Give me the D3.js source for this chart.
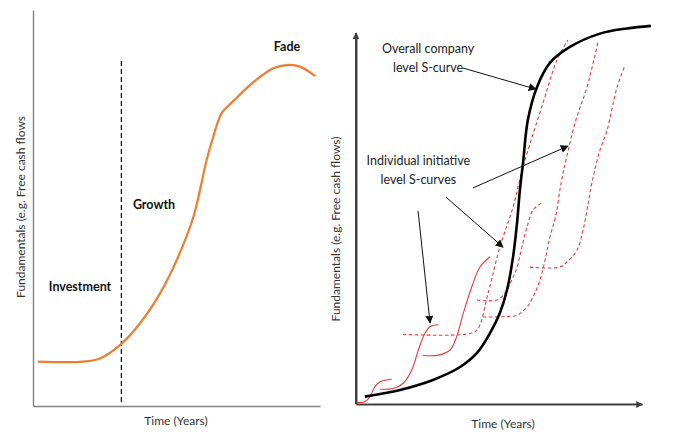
<!DOCTYPE html>
<html>
<head>
<meta charset="utf-8">
<script src="https://cdn.jsdelivr.net/npm/d3@7"></script>
<style>
  body { margin: 0; background: #fff; }
  svg text { font-family: Lato, "Open Sans", sans-serif; }
</style>
</head>
<body>
<div class="container"></div>
<script>
// left panel: single lifecycle curve (x = time, y = fundamentals, 0..100)
const lifeX = [1.7, 17.5, 23.3, 30.8, 37.3, 44.3, 50.1, 55.9, 60.5, 62.8, 65.7, 69.8, 76.8, 83.7, 88.4, 93.0, 98.3]
const lifeY = [11.2, 11.2, 12.0, 15.7, 20.9, 28.5, 36.9, 47.8, 62.1, 68.0, 73.9, 77.0, 81.8, 85.3, 86.1, 85.7, 83.3]
const phaseLabels = ['Investment', 'Growth', 'Fade']
const phaseX = [5.5, 34.8, 88.5]
const phaseY = [29.0, 49.7, 89.6]
const phaseAnchor = ['start', 'start', 'middle']
const dividerX = 30.8

// right panel: company curve and initiative curves
const companyX = [3.1, 15.4, 26.9, 36.4, 42.3, 46.9, 50.3, 52.8, 54.9, 56.3, 57.3, 58.4, 60.1, 63.3, 67.8, 74.8, 85.3, 94.8, 103.1]
const companyY = [2.0, 3.8, 6.5, 10.0, 13.8, 19.2, 24.6, 30.8, 39.7, 48.9, 57.8, 65.1, 76.8, 85.7, 92.2, 96.5, 100.1, 101.5, 102.2]

const s1X = [0.2, 3.1, 4.9, 6.6, 8.4, 10.7, 12.5]
const s1Y = [0.4, 0.6, 2.0, 4.7, 6.0, 6.5, 6.7]
const s2X = [8.4, 13.0, 16.5, 19.5, 21.8, 24.1, 25.9, 28.8]
const s2Y = [4.0, 4.2, 5.6, 9.2, 14.6, 19.1, 20.9, 21.4]
const s3X = [23.5, 28.8, 32.9, 35.2, 37.5, 40.5, 43.4, 46.9]
const s3Y = [13.1, 13.2, 14.6, 18.2, 24.5, 31.7, 37.1, 39.8]

const d1X = [16.4, 38.8, 42.3, 46.2, 50.3, 54.9, 58.4, 65.4, 70.3, 74.1]
const d1Y = [18.8, 18.9, 20.0, 30.0, 42.4, 53.2, 64.1, 81.4, 93.0, 98.4]
const d2X = [42.3, 49.3, 52.1, 54.5, 56.3, 58.0, 59.8, 61.9, 65.4]
const d2Y = [28.1, 28.1, 30.0, 33.5, 37.0, 42.4, 47.8, 52.4, 54.6]
const d3X = [44.4, 51.4, 56.3, 59.8, 61.9, 64.3, 66.1, 67.8, 69.9, 71.7, 73.4, 76.9, 80.8, 84.6]
const d3Y = [23.5, 23.6, 24.0, 26.2, 28.9, 33.5, 38.9, 45.1, 51.1, 59.7, 65.9, 76.8, 85.7, 97.8]
const d4X = [60.8, 71.3, 73.8, 77.3, 79.4, 81.2, 82.9, 85.3, 87.8, 91.3, 94.1]
const d4Y = [37.0, 37.0, 38.4, 41.6, 47.0, 54.3, 61.3, 68.6, 74.0, 85.7, 91.6]

// annotation arrows, start and end points
const arrowFrom = [[37.4, 90.8], [40.9, 58.4], [31.5, 55.9], [21.7, 52.2]]
const arrowTo = [[62.9, 85.1], [74.1, 69.7], [51.4, 42.4], [25.9, 21.9]]
const noteLines = [['Overall company', 'level S-curve'], ['Individual initiative', 'level S-curves']]
const noteX = [25.2, 21.8]
const noteY = [[94.9, 89.7], [64.6, 59.4]]

const width = 680
const height = 440

const svg = d3.select('.container')
  .append('svg')
  .attr('width', width)
  .attr('height', height)

const defs = svg.append('defs')
const addMarker = (id, color, size) => {
  defs.append('marker')
    .attr('id', id)
    .attr('viewBox', '0 0 10 10')
    .attr('refX', 9)
    .attr('refY', 5)
    .attr('markerWidth', size)
    .attr('markerHeight', size)
    .attr('markerUnits', 'userSpaceOnUse')
    .attr('orient', 'auto')
    .append('path')
    .attr('d', 'M0,0 L10,5 L0,10 z')
    .attr('fill', color)
}
addMarker('arr', '#111', 8)
addMarker('axarr', '#404040', 7)

const zip = (xs, ys) => xs.map((x, i) => [x, ys[i]])

// ---------- left panel ----------
const xL = d3.scaleLinear().domain([0, 100]).range([33, 320])
const yL = d3.scaleLinear().domain([0, 100]).range([406, 10])

const left = svg.append('g')

left.append('g')
  .attr('transform', `translate(0, ${yL(0)})`)
  .call(d3.axisBottom(xL).ticks(0).tickSize(0).tickFormat(''))
  .call(g => g.select('.domain').attr('stroke', '#808080').attr('stroke-width', 1.4))
left.append('g')
  .attr('transform', `translate(${xL(0)}, 0)`)
  .call(d3.axisLeft(yL).ticks(0).tickSize(0).tickFormat(''))
  .call(g => g.select('.domain').attr('stroke', '#808080').attr('stroke-width', 1.4))

left.append('line')
  .attr('x1', xL(dividerX)).attr('x2', xL(dividerX))
  .attr('y1', yL(1)).attr('y2', yL(87.9))
  .attr('stroke', '#111')
  .attr('stroke-width', 1.3)
  .attr('stroke-dasharray', '5,3')

const lineL = d3.line()
  .x(d => xL(d[0]))
  .y(d => yL(d[1]))
  .curve(d3.curveCatmullRom.alpha(0.5))

left.append('path')
  .datum(zip(lifeX, lifeY))
  .attr('d', lineL)
  .attr('fill', 'none')
  .attr('stroke', '#ed7d31')
  .attr('stroke-width', 2.2)

left.selectAll('text.phase')
  .data(phaseLabels)
  .enter()
  .append('text')
  .attr('class', 'phase')
  .attr('x', (d, i) => xL(phaseX[i]))
  .attr('y', (d, i) => yL(phaseY[i]))
  .attr('text-anchor', (d, i) => phaseAnchor[i])
  .attr('font-weight', 'bold')
  .attr('font-size', 12.5)
  .attr('fill', '#111')
  .text(d => d)

left.append('text')
  .attr('x', 176).attr('y', 425)
  .attr('text-anchor', 'middle')
  .attr('font-size', 12)
  .attr('fill', '#333')
  .text('Time (Years)')

left.append('text')
  .attr('transform', 'translate(25, 207) rotate(-90)')
  .attr('text-anchor', 'middle')
  .attr('font-size', 12)
  .attr('fill', '#333')
  .text('Fundamentals (e.g. Free cash flows')

// ---------- right panel ----------
const xR = d3.scaleLinear().domain([0, 100]).range([356, 642])
const yR = d3.scaleLinear().domain([0, 100]).range([404, 34])

const right = svg.append('g')

right.append('g')
  .attr('transform', `translate(0, ${yR(0)})`)
  .call(d3.axisBottom(xR).ticks(0).tickSize(0).tickFormat(''))
  .call(g => g.select('.domain').attr('stroke', '#404040').attr('stroke-width', 2)
    .attr('marker-end', 'url(#axarr)'))
right.append('g')
  .attr('transform', `translate(${xR(0)}, 0)`)
  .call(d3.axisLeft(yR).ticks(0).tickSize(0).tickFormat(''))
  .call(g => g.select('.domain').attr('stroke', '#404040').attr('stroke-width', 2))
right.append('line')
  .attr('x1', xR(0)).attr('x2', xR(0))
  .attr('y1', yR(0)).attr('y2', yR(100) - 1)
  .attr('stroke', '#404040')
  .attr('stroke-width', 2)
  .attr('marker-end', 'url(#axarr)')

const lineR = d3.line()
  .x(d => xR(d[0]))
  .y(d => yR(d[1]))
  .curve(d3.curveCatmullRom.alpha(0.5))

const solids = [zip(s1X, s1Y), zip(s2X, s2Y), zip(s3X, s3Y)]
const dashed = [zip(d1X, d1Y), zip(d2X, d2Y), zip(d3X, d3Y), zip(d4X, d4Y)]

right.selectAll('path.solid')
  .data(solids)
  .enter()
  .append('path')
  .attr('class', 'solid')
  .attr('d', lineR)
  .attr('fill', 'none')
  .attr('stroke', '#e03c3c')
  .attr('stroke-width', 1.1)

right.selectAll('path.dashed')
  .data(dashed)
  .enter()
  .append('path')
  .attr('class', 'dashed')
  .attr('d', lineR)
  .attr('fill', 'none')
  .attr('stroke', '#e03c3c')
  .attr('stroke-width', 1.1)
  .attr('stroke-dasharray', '3.5,2.5')

right.append('path')
  .datum(zip(companyX, companyY))
  .attr('d', lineR)
  .attr('fill', 'none')
  .attr('stroke', '#000')
  .attr('stroke-width', 2.6)

right.selectAll('line.note')
  .data(arrowFrom)
  .enter()
  .append('line')
  .attr('class', 'note')
  .attr('x1', d => xR(d[0]))
  .attr('y1', d => yR(d[1]))
  .attr('x2', (d, i) => xR(arrowTo[i][0]))
  .attr('y2', (d, i) => yR(arrowTo[i][1]))
  .attr('stroke', '#111')
  .attr('stroke-width', 1)
  .attr('marker-end', 'url(#arr)')

noteLines.forEach((lines, i) => {
  right.append('text')
    .attr('text-anchor', 'middle')
    .attr('font-size', 12.5)
    .attr('fill', '#222')
    .selectAll('tspan')
    .data(lines)
    .enter()
    .append('tspan')
    .attr('x', xR(noteX[i]))
    .attr('y', (d, j) => yR(noteY[i][j]))
    .text(d => d)
})

right.append('text')
  .attr('x', 503).attr('y', 428)
  .attr('text-anchor', 'middle')
  .attr('font-size', 12)
  .attr('fill', '#333')
  .text('Time (Years)')

right.append('text')
  .attr('transform', 'translate(340, 229) rotate(-90)')
  .attr('text-anchor', 'middle')
  .attr('font-size', 12)
  .attr('fill', '#333')
  .text('Fundamentals (e.g. Free cash flows)')
</script>
</body>
</html>
